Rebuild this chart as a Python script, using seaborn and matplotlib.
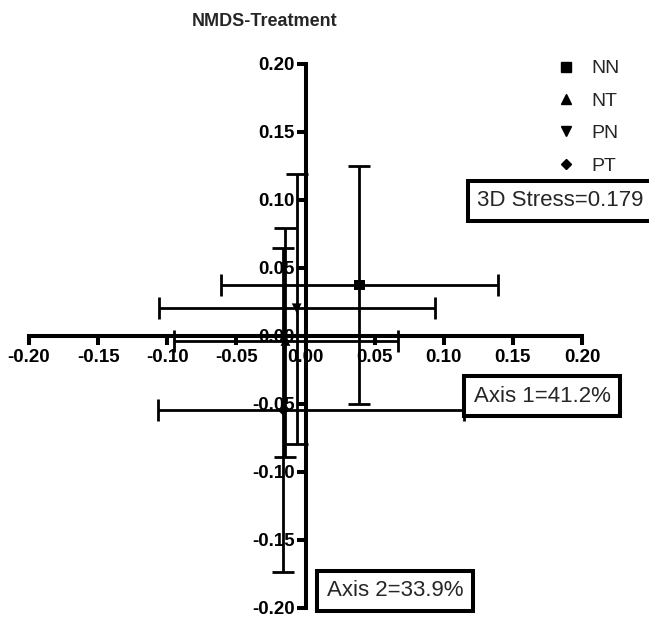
import matplotlib
matplotlib.use("Agg")
import matplotlib.pyplot as plt
from matplotlib.lines import Line2D
import pandas as pd
import seaborn as sns

# NMDS group centroids with SD ranges
groups = ["NN", "NT", "PN", "PT"]
axis1_mean = [0.039, -0.0145, -0.0064, -0.016]
axis2_mean = [0.037, -0.004, 0.020, -0.055]
axis1_low = [-0.061, -0.095, -0.106, -0.107]
axis1_high = [0.139, 0.067, 0.0935, 0.1145]
axis2_low = [-0.050, -0.089, -0.080, -0.174]
axis2_high = [0.125, 0.079, 0.119, 0.064]

ticks = [-0.20, -0.15, -0.10, -0.05, 0.00, 0.05, 0.10, 0.15, 0.20]
markers = {"NN": "s", "NT": "^", "PN": "v", "PT": "D"}
marker_sizes = {"NN": 55, "NT": 50, "PN": 50, "PT": 32}

sns.set_theme(style="white")
plt.rcParams["font.family"] = ["Liberation Sans", "DejaVu Sans"]

df = pd.DataFrame({
    "group": groups,
    "x": axis1_mean,
    "y": axis2_mean,
    "xlo": axis1_low,
    "xhi": axis1_high,
    "ylo": axis2_low,
    "yhi": axis2_high,
})

W, H = 649, 622
fig = plt.figure(figsize=(W / 100, H / 100), dpi=100)
ax = fig.add_axes([29 / W, 1 - 607.5 / H, (582 - 29) / W, (607.5 - 63.5) / H])

# axes crossing at the origin (set before tick labels: this resets ticks)
ax.spines["left"].set_position(("data", 0))
ax.spines["bottom"].set_position(("data", 0))
ax.spines["right"].set_visible(False)
ax.spines["top"].set_visible(False)
for s in ("left", "bottom"):
    ax.spines[s].set_linewidth(2.9)
    ax.spines[s].set_color("black")
    ax.spines[s].set_zorder(2)

for _, r in df.iterrows():
    ax.errorbar(r.x, r.y,
                xerr=[[r.x - r.xlo], [r.xhi - r.x]],
                yerr=[[r.y - r.ylo], [r.yhi - r.y]],
                fmt="none", ecolor="black", elinewidth=2.0,
                capsize=8, capthick=2.0, zorder=3)

sns.scatterplot(data=df, x="x", y="y", style="group", markers=markers,
                size="group", sizes=marker_sizes, color="black",
                edgecolor="black", linewidth=0, legend=False, ax=ax, zorder=4)

ax.set_xlim(-0.2, 0.2)
ax.set_ylim(-0.2, 0.2)
ax.set_xticks(ticks)
ax.set_yticks(ticks)
ax.set_xticklabels([f"{t:.2f}" for t in ticks])
ax.set_yticklabels([f"{t:.2f}" for t in ticks])
ax.set_xlabel("")
ax.set_ylabel("")
ax.tick_params(axis="both", which="major", direction="out", length=6.5,
               width=2.9, color="black", labelcolor="black", pad=1.5,
               labelsize=13.5, bottom=True, left=True)
ax.tick_params(axis="x", pad=3.5)
for lab in ax.get_xticklabels() + ax.get_yticklabels():
    lab.set_fontweight("bold")
ax.set_facecolor("none")
ax.grid(False)

# legend with marker glyphs
handles = [Line2D([], [], marker=markers[g], linestyle="none", color="black",
                  markersize=7 if g != "PT" else 5.5) for g in groups]
fig.legend(handles, groups, loc="upper left",
           bbox_to_anchor=(547 / W, 1 - 52 / H),
           frameon=False, fontsize=14, handletextpad=0.7, labelspacing=0.76,
           handlelength=1.2, borderaxespad=0)

fig.text(265 / W, 1 - 22 / H, "NMDS-Treatment", ha="center", va="center",
         fontsize=13, fontweight="bold")

box = dict(boxstyle="square,pad=0.42", facecolor="white", edgecolor="black",
           linewidth=2.9)
fig.text(477 / W, 1 - 201 / H, "3D Stress=0.179", ha="left", va="center",
         fontsize=16, bbox=box)
fig.text(542 / W, 1 - 396 / H, "Axis 1=41.2%", ha="center", va="center",
         fontsize=16, bbox=box)
fig.text(395 / W, 1 - 591 / H, "Axis 2=33.9%", ha="center", va="center",
         fontsize=16, bbox=box)

fig.savefig("out.png", dpi=100, facecolor="white")
